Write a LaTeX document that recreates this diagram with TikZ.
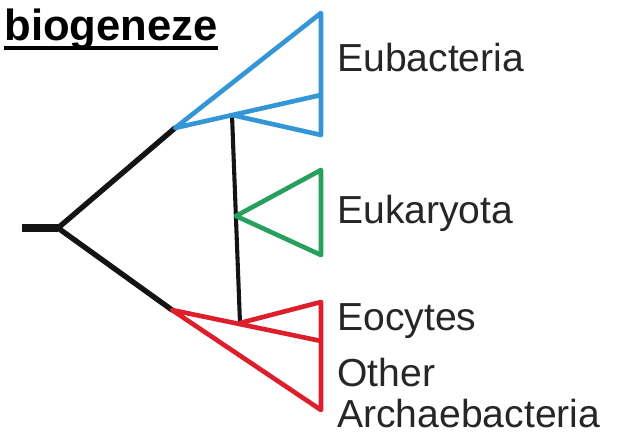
\documentclass[tikz,border=0pt]{standalone}
\usepackage{fontspec}
\setmainfont{Liberation Sans}
\usetikzlibrary{positioning}
\definecolor{eubblue}{RGB}{52,150,214}
\definecolor{eukgreen}{RGB}{38,160,92}
\definecolor{arcred}{RGB}{222,30,42}

\begin{document}
\begin{tikzpicture}[
  x=0.025cm, y=-0.025cm,
  stem/.style={draw=black!92, line width=3.8pt, line cap=round, line join=round},
  clade/.style={draw=#1, line width=3.3pt, line cap=round, line join=round},
  taxon/.style={anchor=base west, inner sep=0pt, text=black!85,
                font=\fontsize{27.8pt}{30pt}\selectfont},
  ttl/.style={anchor=base east, inner sep=0pt,
              font=\fontsize{31pt}{35pt}\selectfont\bfseries}
]
\useasboundingbox (0,0) rectangle (621,434);

% ---- title ----
\node[ttl] (title) at (218,40) {biogeneze};
\draw[line width=2.8pt] ([yshift=-6pt]title.base west) -- ([yshift=-6pt]title.base east);

% ---- tree points ----
\coordinate (stub)      at (22,228);
\coordinate (fork)      at (58,228);
\coordinate (eub)       at (175,128);
\coordinate (eubtop)    at (321,13);
\coordinate (eubmid)    at (321,95);
\coordinate (eubsplit)  at (232,115);
\coordinate (eubbot)    at (321,135);
\coordinate (euk)       at (236,216);
\coordinate (euktop)    at (321,170);
\coordinate (eukbot)    at (321,255);
\coordinate (arch)      at (172,310);
\coordinate (archsplit) at (240,323);
\coordinate (eoctop)    at (321,302);
\coordinate (eocbot)    at (321,341);
\coordinate (archbot)   at (321,410);

% ---- black stem ----
\draw[stem, line width=6pt, line cap=butt] (stub) -- (fork);
\draw[stem] (eub) -- (fork) -- (arch);
\draw[stem, line width=2.9pt] (eubsplit) -- (archsplit);

% ---- clades ----
\draw[clade=eubblue]  (eubmid) -- (eub) -- (eubtop) -- (eubbot) -- (eubsplit);
\draw[clade=eukgreen] (eukbot) -- (euk) -- (euktop) -- cycle;
\draw[clade=arcred]   (eocbot) -- (arch) -- (archbot) -- (eoctop) -- (archsplit);

% ---- labels ----
\node[taxon] (lEub)   at (337,72)  {Eubacteria};
\node[taxon] (lEuk)   at (337,223) {Eukaryota};
\node[taxon] (lEoc)   at (337,330) {Eocytes};
\node[taxon] (lOther) at (337,386) {Other};
\node[taxon] (lArch)  at (337,427) {Archaebacteria};

\end{tikzpicture}
\end{document}
